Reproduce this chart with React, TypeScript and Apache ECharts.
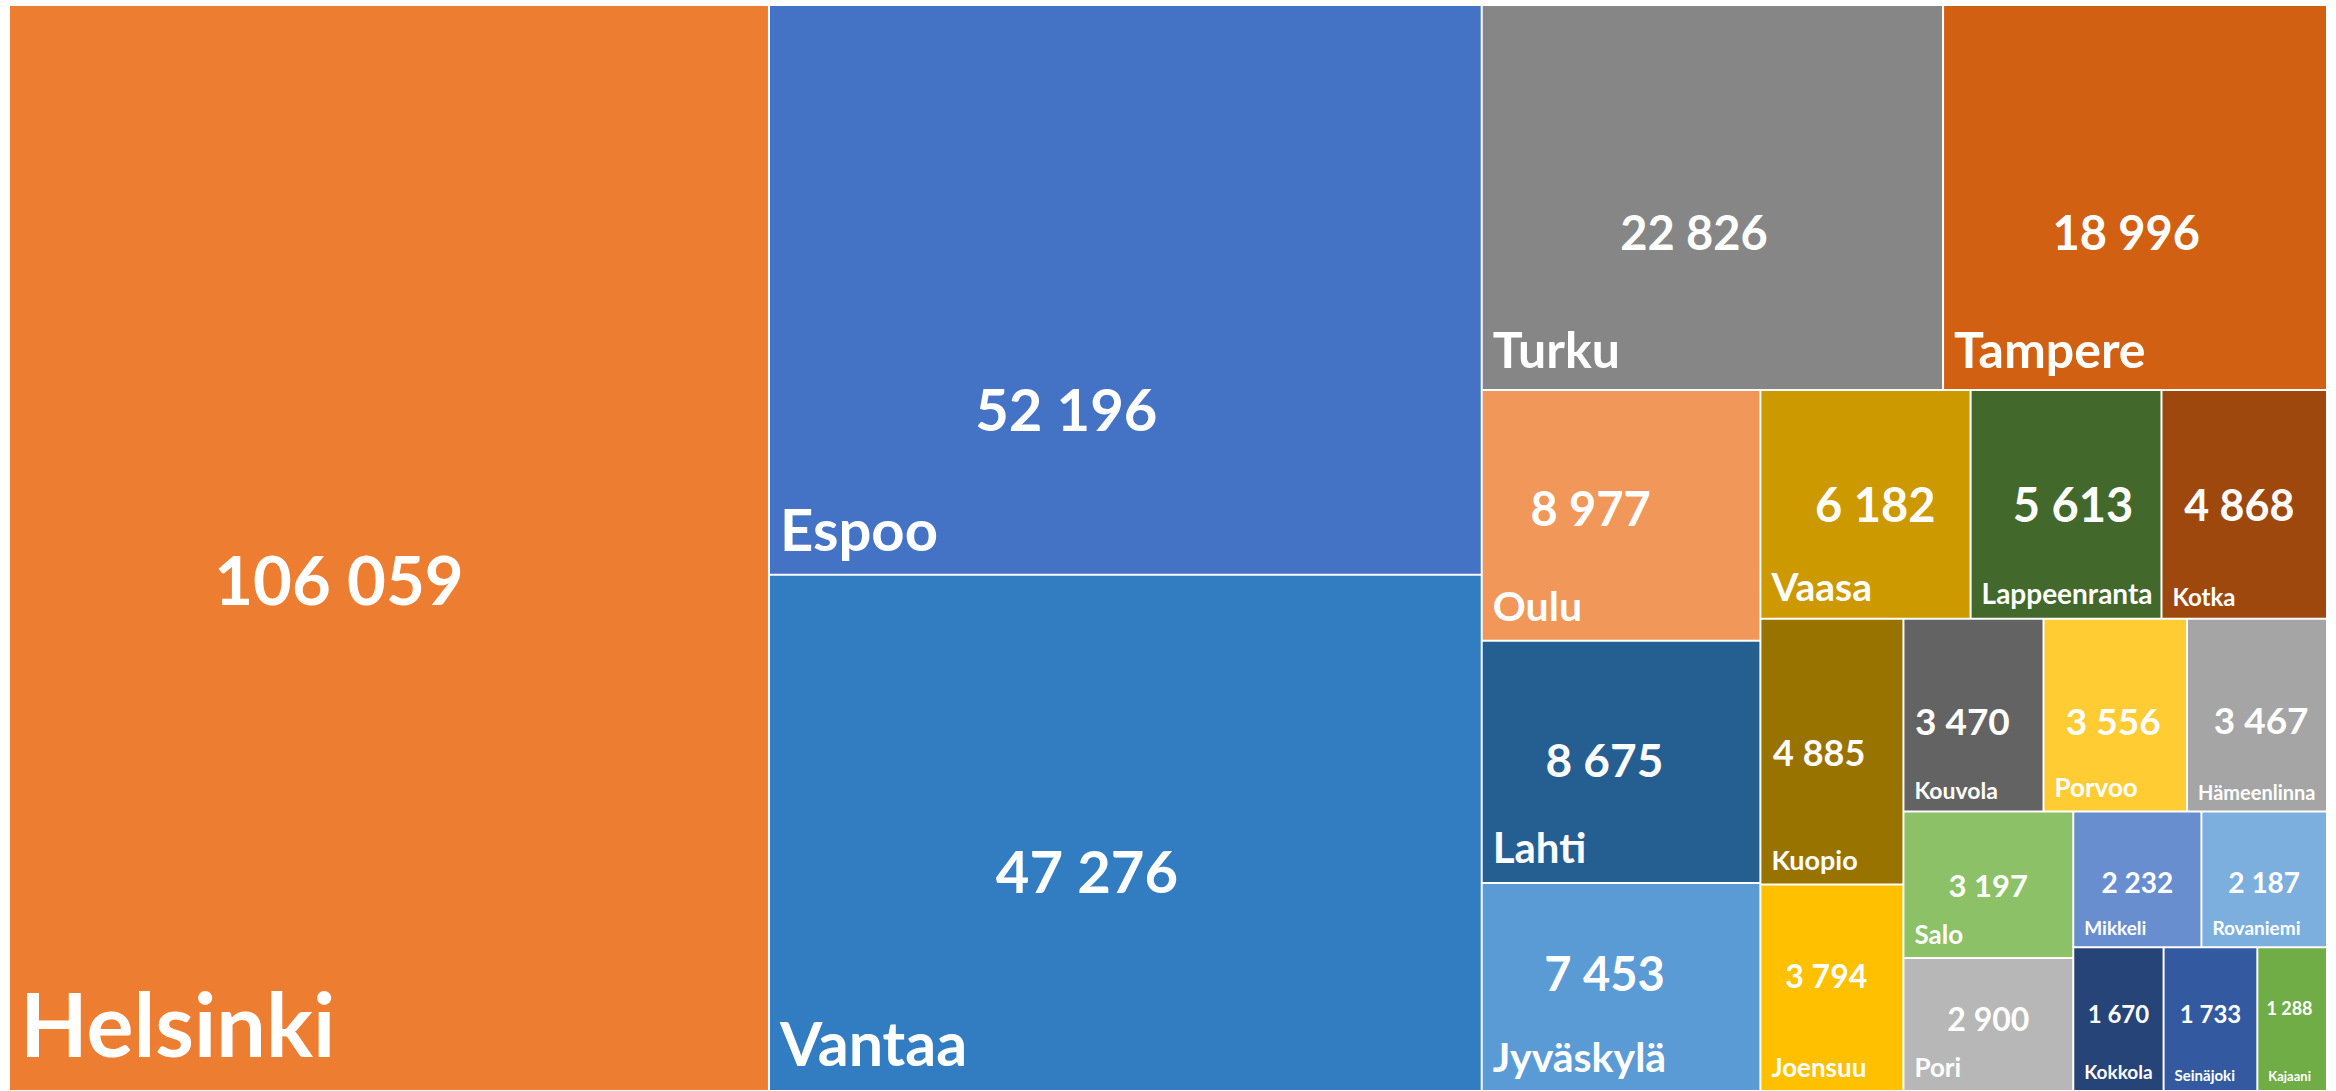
import React, { useEffect, useRef } from "react";
import * as echarts from "echarts";

// ---- data (display / layout order) ----
const cities = [
  "Helsinki", "Espoo", "Vantaa", "Turku", "Tampere",
  "Oulu", "Lahti", "Jyväskylä", "Vaasa", "Lappeenranta", "Kotka",
  "Kuopio", "Joensuu",
  "Kouvola", "Porvoo", "Hämeenlinna", "Salo", "Pori",
  "Mikkeli", "Rovaniemi", "Kokkola", "Seinäjoki", "Kajaani",
];
const populations = [
  106059, 52196, 47276, 22826, 18996,
  8977, 8675, 7453, 6182, 5613, 4868,
  4885, 3794,
  3470, 3556, 3467, 3197, 2900,
  2232, 2187, 1670, 1733, 1288,
];
// indices where a nested layout block starts (steers the squarified layout)
const nestStarts = [11, 13];

// ---- styles ----
const cellColors = [
  "#ED7D31", "#4472C4", "#327DC1", "#868686", "#D26012",
  "#F1975A", "#255E91", "#5B9BD5", "#CC9900", "#43682B", "#9E480E",
  "#997300", "#FFC000",
  "#636363", "#FFCD33", "#A5A5A5", "#8CC168", "#B7B7B7",
  "#698ED0", "#7CAFDD", "#264478", "#335AA1", "#70AD47",
];
const valueFontSizes = [67, 58, 58, 47, 47, 47, 46, 47, 47, 47, 43, 36, 32, 37, 37, 37, 31, 32, 28, 28, 24, 24, 18];
const nameFontSizes = [88, 58, 61, 50, 50, 41, 42, 41, 39, 28, 24, 27, 26, 23, 26, 20, 26, 26, 19, 19, 19, 15, 13];
const valueLabelPos = [
  [43.4, 52.9], [41.7, 70.8], [44.6, 57.4], [46, 58.9], [47.7, 58.9],
  [39, 47], [44, 49], [44, 43], [54.7, 50], [53.7, 50], [47, 50],
  [41, 50], [46, 44],
  [42, 52.6], [48.6, 52.6], [53, 52], [50, 50], [50, 45],
  [50, 52], [50, 52], [50, 46], [50, 46], [46, 42],
];

const fmt = (v: number) => String(v).replace(/\B(?=(\d{3})+(?!\d))/g, " ");

function leaf(mode: "value" | "name", i: number) {
  if (mode === "value") {
    return {
      name: cities[i],
      value: populations[i],
      itemStyle: { color: cellColors[i], borderColor: "#ffffff", borderWidth: 1 },
      label: {
        fontSize: valueFontSizes[i],
        position: [valueLabelPos[i][0] + "%", valueLabelPos[i][1] + "%"],
        align: "center",
        verticalAlign: "middle",
      },
    };
  }
  const s = nameFontSizes[i];
  return {
    name: cities[i],
    value: populations[i],
    itemStyle: { color: "rgba(0,0,0,0)", borderColor: "rgba(0,0,0,0)", borderWidth: 1 },
    label: {
      fontSize: s,
      position: "insideBottomLeft",
      distance: 0,
      offset: [10, -(0.2 * s + 5)],
    },
  };
}

function buildNodes(mode: "value" | "name", start: number, level: number): any[] {
  const end = level < nestStarts.length ? nestStarts[level] : cities.length;
  const nodes: any[] = [];
  for (let i = start; i < end; i++) nodes.push(leaf(mode, i));
  if (level < nestStarts.length) {
    nodes.push({
      name: "",
      children: buildNodes(mode, nestStarts[level], level + 1),
      itemStyle: { borderWidth: 0, gapWidth: 0 },
    });
  }
  return nodes;
}

function baseSeries(mode: "value" | "name") {
  return {
    type: "treemap",
    left: 9,
    top: 5,
    width: 2318,
    height: 1086,
    squareRatio: 1,
    sort: false,
    roam: false,
    nodeClick: false,
    silent: true,
    breadcrumb: { show: false },
    visibleMin: 0,
    z: mode === "value" ? 2 : 3,
    itemStyle: {
      borderWidth: 0,
      gapWidth: 0,
      borderColor: mode === "value" ? "#ffffff" : "rgba(0,0,0,0)",
    },
    upperLabel: { show: false },
    label: {
      show: true,
      color: "#ffffff",
      fontFamily: "Lato",
      fontWeight: "bold",
      padding: 0,
      formatter: mode === "value" ? (p: any) => fmt(p.value) : "{b}",
    },
    data: buildNodes(mode, 0, 0),
  };
}

export default function App() {
  const ref = useRef<HTMLDivElement>(null);
  useEffect(() => {
    if (!ref.current) return;
    const chart = echarts.init(ref.current, null, { renderer: "svg" });
    chart.setOption({
      animation: false,
      backgroundColor: "#ffffff",
      series: [baseSeries("value"), baseSeries("name")],
    });
    return () => chart.dispose();
  }, []);
  return (
    <div
      ref={ref}
      style={{ position: "absolute", left: 0, top: 0, width: 2336, height: 1091, background: "#fff" }}
    />
  );
}
